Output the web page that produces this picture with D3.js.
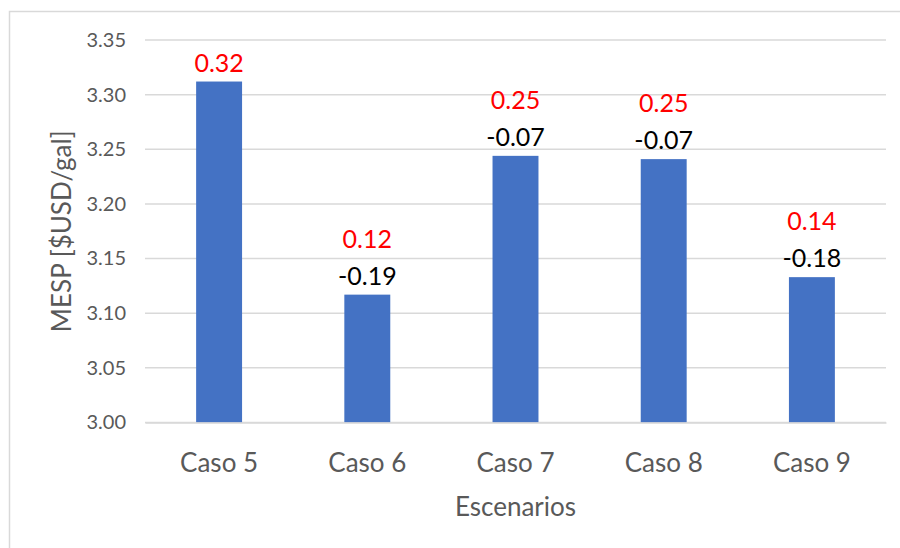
<!DOCTYPE html>
<html>
<head>
<meta charset="utf-8">
<script src="https://cdn.jsdelivr.net/npm/d3@7/dist/d3.min.js"></script>
<style>
  html, body { margin: 0; padding: 0; background: #ffffff; }
  svg { display: block; }
  text { font-family: Lato, "Open Sans", "Noto Sans", sans-serif; }
</style>
</head>
<body>
<div id="chart"></div>
<script>
// MESP per scenario
const categories = ["Caso 5", "Caso 6", "Caso 7", "Caso 8", "Caso 9"];
const mesp = [3.312, 3.117, 3.244, 3.241, 3.133];
// annotations drawn above each bar
const redLabels = ["0.32", "0.12", "0.25", "0.25", "0.14"];
const blackLabels = [null, "-0.19", "-0.07", "-0.07", "-0.18"];
// y axis ticks
const yTicks = [3.00, 3.05, 3.10, 3.15, 3.20, 3.25, 3.30, 3.35];

const W = 900, H = 548;
const plot = { left: 145, right: 886, top: 40, bottom: 422.5 };

const svg = d3.select("#chart").append("svg")
  .attr("width", W).attr("height", H);

// chart frame
svg.append("rect")
  .attr("x", 9.5).attr("y", 11.5)
  .attr("width", W + 20).attr("height", H + 20)
  .attr("fill", "none")
  .attr("stroke", "#d9d9d9")
  .attr("stroke-width", 1.5);

const x = d3.scaleBand()
  .domain(categories)
  .range([plot.left, plot.right])
  .paddingInner(0.69)
  .paddingOuter(0.345);

const y = d3.scaleLinear()
  .domain([3.00, 3.35])
  .range([plot.bottom, plot.top]);

// gridlines
svg.append("g")
  .selectAll("line")
  .data(yTicks)
  .join("line")
  .attr("x1", plot.left).attr("x2", plot.right)
  .attr("y1", d => y(d)).attr("y2", d => y(d))
  .attr("stroke", "#d9d9d9")
  .attr("stroke-width", 1.5);

// y axis tick labels
const yAxis = d3.axisLeft(y)
  .tickValues(yTicks)
  .tickFormat(d3.format(".2f"))
  .tickSize(0)
  .tickPadding(19);
const gy = svg.append("g")
  .attr("transform", `translate(${plot.left},0)`)
  .call(yAxis);
gy.select(".domain").remove();
gy.selectAll("text")
  .attr("fill", "#595959")
  .style("font-size", "20px");

// bars
svg.append("g")
  .selectAll("rect")
  .data(categories)
  .join("rect")
  .attr("x", d => x(d))
  .attr("width", x.bandwidth())
  .attr("y", (d, i) => y(mesp[i]))
  .attr("height", (d, i) => y(3.00) - y(mesp[i]))
  .attr("fill", "#4472c4");

// x axis
const xAxis = d3.axisBottom(x).tickSize(0).tickPadding(31);
const gx = svg.append("g")
  .attr("transform", `translate(0,${plot.bottom})`)
  .call(xAxis);
gx.select(".domain")
  .attr("stroke", "#d9d9d9")
  .attr("stroke-width", 1.5);
gx.selectAll("text")
  .attr("fill", "#595959")
  .style("font-size", "26px");

// value annotations
const labels = svg.append("g").attr("text-anchor", "middle");
categories.forEach((c, i) => {
  const cx = x(c) + x.bandwidth() / 2;
  const top = y(mesp[i]);
  let base = top - 10;
  if (blackLabels[i] !== null) {
    labels.append("text")
      .attr("x", cx).attr("y", base)
      .attr("fill", "#000000")
      .style("font-size", "25px")
      .text(blackLabels[i]);
    base -= 37;
  }
  labels.append("text")
    .attr("x", cx).attr("y", base)
    .attr("fill", "#ff0000")
    .style("font-size", "25px")
    .text(redLabels[i]);
});

// axis titles
svg.append("text")
  .attr("x", (plot.left + plot.right) / 2)
  .attr("y", 516)
  .attr("text-anchor", "middle")
  .attr("fill", "#595959")
  .style("font-size", "26px")
  .text("Escenarios");

svg.append("text")
  .attr("transform", `translate(71,${(plot.top + plot.bottom) / 2}) rotate(-90)`)
  .attr("text-anchor", "middle")
  .attr("fill", "#595959")
  .style("font-size", "26px")
  .text("MESP [$USD/gal]");
</script>
</body>
</html>
